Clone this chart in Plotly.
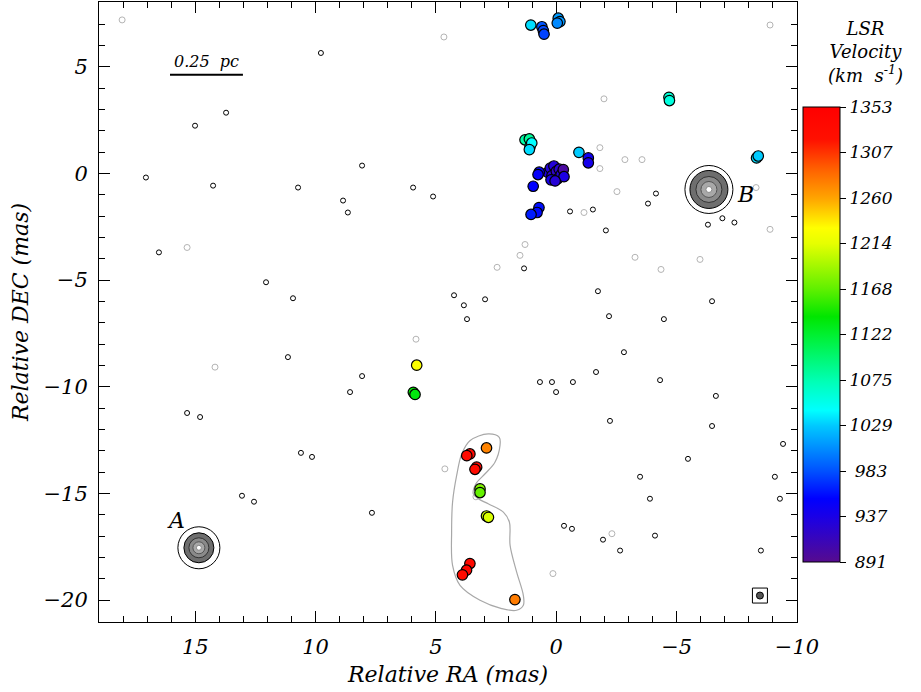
import plotly.graph_objects as go

# ---------------- data ----------------
maser_ra = [1.06, 0.60, 0.54, 0.51, -0.08, -0.15, -0.04, -4.68, -4.70,
            1.30, 1.12, 1.09, 1.02, 1.12, -0.94, -1.33, -1.33,
            0.35, 0.25, 0.18, 0.10, 0.00, -0.05, -0.12, -0.20, 0.22, -0.29, -0.32, 0.05,
            0.71, 0.76, 0.96, 0.72, 0.80, 1.05, -8.32, -8.39,
            5.80, 5.94, 5.87,
            2.90, 3.59, 3.72, 3.31, 3.38, 3.17, 3.17, 2.90, 2.82, 3.59, 3.73, 3.90, 1.72]
maser_dec = [6.96, 6.88, 6.70, 6.53, 7.28, 7.12, 7.05, 3.57, 3.42,
             1.58, 1.62, 1.27, 1.43, 1.12, 0.99, 0.73, 0.50,
             0.05, 0.25, -0.10, 0.35, 0.10, -0.25, 0.20, -0.05, -0.30, 0.18, -0.15, -0.35,
             0.06, -0.05, -0.60, -1.60, -1.83, -1.92, 0.73, 0.82,
             -8.99, -10.26, -10.36,
             -12.87, -13.15, -13.23, -13.77, -13.87, -14.79, -14.96, -16.06, -16.12,
             -18.29, -18.60, -18.82, -19.98]
maser_vel = [1035, 985, 980, 978, 1012, 1010, 1005, 1062, 1058,
             1080, 1085, 1040, 1045, 1035, 1030, 945, 940,
             935, 930, 925, 930, 920, 935, 925, 930, 940, 900, 935, 928,
             955, 950, 955, 960, 958, 965, 1035, 1030,
             1228, 1140, 1135,
             1275, 1335, 1330, 1335, 1330, 1180, 1170, 1205, 1210, 1335, 1340, 1330, 1278]

# continuum sources A and B
src_ra = [14.85, -6.34]
src_dec = [-17.55, -0.75]
src_lbl = ["A", "B"]
lbl_ra = [15.8, -7.88]
lbl_dec = [-16.28, -0.99]

# grey outline around the southern group
outline_ra = [2.83, 2.37, 2.34, 2.55, 2.96, 3.34, 3.45, 3.24, 2.83, 2.20, 1.95, 1.92,
              1.65, 1.37, 1.37, 1.65, 2.27, 3.17, 4.00, 4.31, 4.35, 4.31, 4.14, 3.93, 3.59, 2.83]
outline_dec = [-12.21, -12.37, -12.76, -13.54, -14.08, -14.55, -15.02, -15.25, -15.49,
               -15.88, -16.34, -17.44, -18.68, -19.78, -20.24, -20.48, -20.40, -20.01,
               -19.31, -18.37, -16.81, -15.41, -14.16, -13.15, -12.53, -12.21]

# noise contours (black)
noise_ra = [15.01, 13.72, 17.05, 14.26, 16.51, 10.73, 9.78, 8.07, 8.86, 8.66, 10.94, 12.06,
            4.25, 3.84, 3.71, 2.96, 11.15, 15.34, 14.80, 10.61, 10.15, 7.66, 13.06, 12.56,
            -0.32, -0.65, -1.94, -2.65, -4.10, -3.89, -2.81, -1.65, -4.31, -6.63, -6.47,
            -9.42, -1.73, -2.19, -4.47, -6.47, -2.06, -4.14, -3.81, -0.57, 5.95, 5.12, 1.34,
            0.18, 0.01, -0.69, 0.68, -2.23, -5.47, -3.48, -9.29, -8.50, -9.08, 8.57, 8.07,
            -1.52, -6.90, -7.40, -6.30]
noise_dec = [2.24, 2.85, -0.19, -0.57, -3.70, -0.66, 5.65, 0.37, -1.27, -1.83, -5.85, -5.10,
             -5.71, -6.18, -6.83, -5.90, -8.61, -11.23, -11.42, -13.10, -13.29, -15.91, -15.11,
             -15.39, -16.52, -16.66, -17.17, -17.68, -16.98, -15.25, -8.38, -9.31, -9.69,
             -10.43, -11.84, -12.68, -5.52, -6.69, -6.83, -5.99, -2.67, -0.94, -1.41, -1.78,
             -0.66, -1.08, -4.45, -9.78, -10.25, -9.78, -9.78, -11.60, -13.38, -14.22, -15.25,
             -17.68, -14.22, -10.25, -9.50, -1.69, -2.10, -2.30, -2.40]
# noise contours (grey)
gnoise_ra = [4.67, -1.98, 15.34, 14.18, -1.15, -3.27, -4.35, -8.30, -8.88, 2.46, 1.30, 1.51,
             -2.52, -1.81, 3.34, -2.31, 0.14, -8.88, 18.04, -5.97, -1.81, 5.83, 4.63, -3.56, -2.85]
gnoise_dec = [6.40, 3.50, -3.47, -9.08, -1.83, -3.93, -4.50, -0.66, -2.62, -4.40, -3.33, -3.84,
              -0.85, 0.23, -15.16, -16.89, -18.76, 6.96, 7.20, -4.03, 1.21, -7.77, -13.85, 0.65, 0.65]

# beam
beam_ra = [-8.46]
beam_dec = [-19.79]

cb_vals = [891, 937.2, 983.4, 1029.6, 1075.8, 1122, 1168.2, 1214.4, 1260.6, 1306.8, 1353]
cb_text = [" 891", " 937", " 983", "1029", "1075", "1122", "1168", "1214", "1260", "1307", "1353"]
vmin, vmax = 891, 1353

xr = [19.0, -10.0]
yr = [-21.03, 8.04]
x_ticks = [15, 10, 5, 0, -5, -10]
x_ticktext = ["15", "10", "5", "0", "\u22125", "\u221210"]
y_ticks = [5, 0, -5, -10, -15, -20]
y_ticktext = ["5", "0", "\u22125", "\u221210", "\u221215", "\u221220"]

# ---------------- style ----------------
W, H = 921, 692
ml, mr, mt, mb = 99, 124, 2, 70
pw, ph = W - ml - mr, H - mt - mb
px_x = pw / abs(xr[1] - xr[0])
px_y = ph / abs(yr[1] - yr[0])
FONT = "DejaVu Serif"


def it(s):
    return "<i>" + s + "</i>"


cscale = [[0.0, "#560b8f"], [0.0996, "#1a00e6"], [0.139, "#0000ff"], [0.199, "#0050ff"],
          [0.299, "#00c8ff"], [0.333, "#00ffff"], [0.398, "#00ffb4"], [0.5, "#00f030"],
          [0.539, "#00e600"], [0.6, "#60f000"], [0.7, "#e6ff00"], [0.734, "#ffff00"],
          [0.799, "#ffa500"], [0.864, "#ff6000"], [0.929, "#ff1000"], [1.0, "#ff0000"]]

fig = go.Figure()

# source contour levels (pixel radius, fill, line)
levels = {
    "A": [(21, "rgba(0,0,0,0)", "black"), (15, "#6e6e6e", "black"), (10, "#8a8a8a", "#333"),
          (6, "#a8a8a8", "#555"), (2.5, "white", "#888")],
    "B": [(24, "rgba(0,0,0,0)", "black"), (19, "#6e6e6e", "black"), (13, "#8a8a8a", "#333"),
          (8, "#a8a8a8", "#555"), (3, "white", "#888")],
}
shapes = []
for cx, cy, name in zip(src_ra, src_dec, src_lbl):
    for r, fc, lc in levels[name]:
        rx, ry = r / px_x, r / px_y
        shapes.append(dict(type="circle", xref="x", yref="y", layer="below",
                           x0=cx - rx, x1=cx + rx, y0=cy - ry, y1=cy + ry,
                           fillcolor=fc, line=dict(color=lc, width=1)))

# scale bar
shapes.append(dict(type="line", xref="x", yref="y", x0=16.05, x1=13.02, y0=4.63, y1=4.63,
                   line=dict(color="black", width=2)))

fig.add_trace(go.Scatter(x=outline_ra, y=outline_dec, mode="lines",
                         line=dict(color="#a8a8a8", width=1.2, shape="spline", smoothing=1.0),
                         hoverinfo="skip", showlegend=False))
fig.add_trace(go.Scatter(x=gnoise_ra, y=gnoise_dec, mode="markers",
                         marker=dict(symbol="circle-open", size=6, color="#b4b4b4", line=dict(width=1)),
                         showlegend=False))
fig.add_trace(go.Scatter(x=noise_ra, y=noise_dec, mode="markers",
                         marker=dict(symbol="circle-open", size=5, color="black", line=dict(width=1)),
                         showlegend=False))
fig.add_trace(go.Scatter(x=beam_ra, y=beam_dec, mode="markers",
                         marker=dict(symbol="square-open", size=15, color="black", line=dict(width=1)),
                         showlegend=False))
fig.add_trace(go.Scatter(x=beam_ra, y=beam_dec, mode="markers",
                         marker=dict(symbol="circle", size=7, color="#555555",
                                     line=dict(width=1, color="black")),
                         showlegend=False))

fig.add_trace(go.Scatter(
    x=maser_ra, y=maser_dec, mode="markers", showlegend=False,
    marker=dict(size=10.5, color=maser_vel, colorscale=cscale, cmin=vmin, cmax=vmax,
                line=dict(color="black", width=1.2), showscale=True,
                colorbar=dict(thickness=37, len=455, lenmode="pixels",
                              x=(803 - ml) / pw, xanchor="left", xpad=0,
                              y=(mt + ph - 334.5) / ph, yanchor="middle", ypad=0,
                              outlinewidth=1, outlinecolor="black",
                              ticks="outside", ticklen=6, tickcolor="black",
                              tickvals=cb_vals, ticktext=[it(t) for t in cb_text],
                              tickfont=dict(family=FONT, size=17, color="black")))))

annotations = [
    dict(x=14.55, y=4.72, xref="x", yref="y", text=it("0.25  pc"), showarrow=False,
         yanchor="bottom", font=dict(family=FONT, size=16, color="black")),
    dict(x=(866 - ml) / pw, y=(mt + ph - 52) / ph, xref="paper", yref="paper",
         text=it("LSR<br>Velocity<br>(km  s<sup>-1</sup>)"), showarrow=False, align="center",
         xanchor="center", yanchor="middle",
         font=dict(family=FONT, size=18, color="black")),
]
for t, lx, ly in zip(src_lbl, lbl_ra, lbl_dec):
    annotations.append(dict(x=lx, y=ly, xref="x", yref="y", text=it(t), showarrow=False,
                            font=dict(family=FONT, size=22, color="black")))

axis_common = dict(showgrid=False, zeroline=False, showline=True, linecolor="black",
                   linewidth=1, mirror="ticks", ticks="inside", ticklen=11, tickcolor="black",
                   tickfont=dict(family=FONT, size=21, color="black"), automargin=False,
                   minor=dict(dtick=1, ticks="inside", ticklen=6, tickcolor="black"))

fig.update_layout(
    width=W, height=H, autosize=False,
    margin=dict(l=ml, r=mr, t=mt, b=mb, autoexpand=False),
    paper_bgcolor="white", plot_bgcolor="white",
    shapes=shapes, annotations=annotations,
    xaxis=dict(range=xr, tickvals=x_ticks, ticktext=[it(t) for t in x_ticktext], **axis_common,
               ticklabelstandoff=6,
               title=dict(text=it("Relative RA (mas)"), standoff=8,
                          font=dict(family=FONT, size=22, color="black"))),
    yaxis=dict(range=yr, tickvals=y_ticks, ticktext=[it(t) for t in y_ticktext], **axis_common,
               ticklabelstandoff=6,
               title=dict(text=it("Relative DEC (mas)"), standoff=8,
                          font=dict(family=FONT, size=22, color="black"))),
)

fig.write_html("out.html", config={"displayModeBar": False},
               post_script="document.body.style.margin='0';")
